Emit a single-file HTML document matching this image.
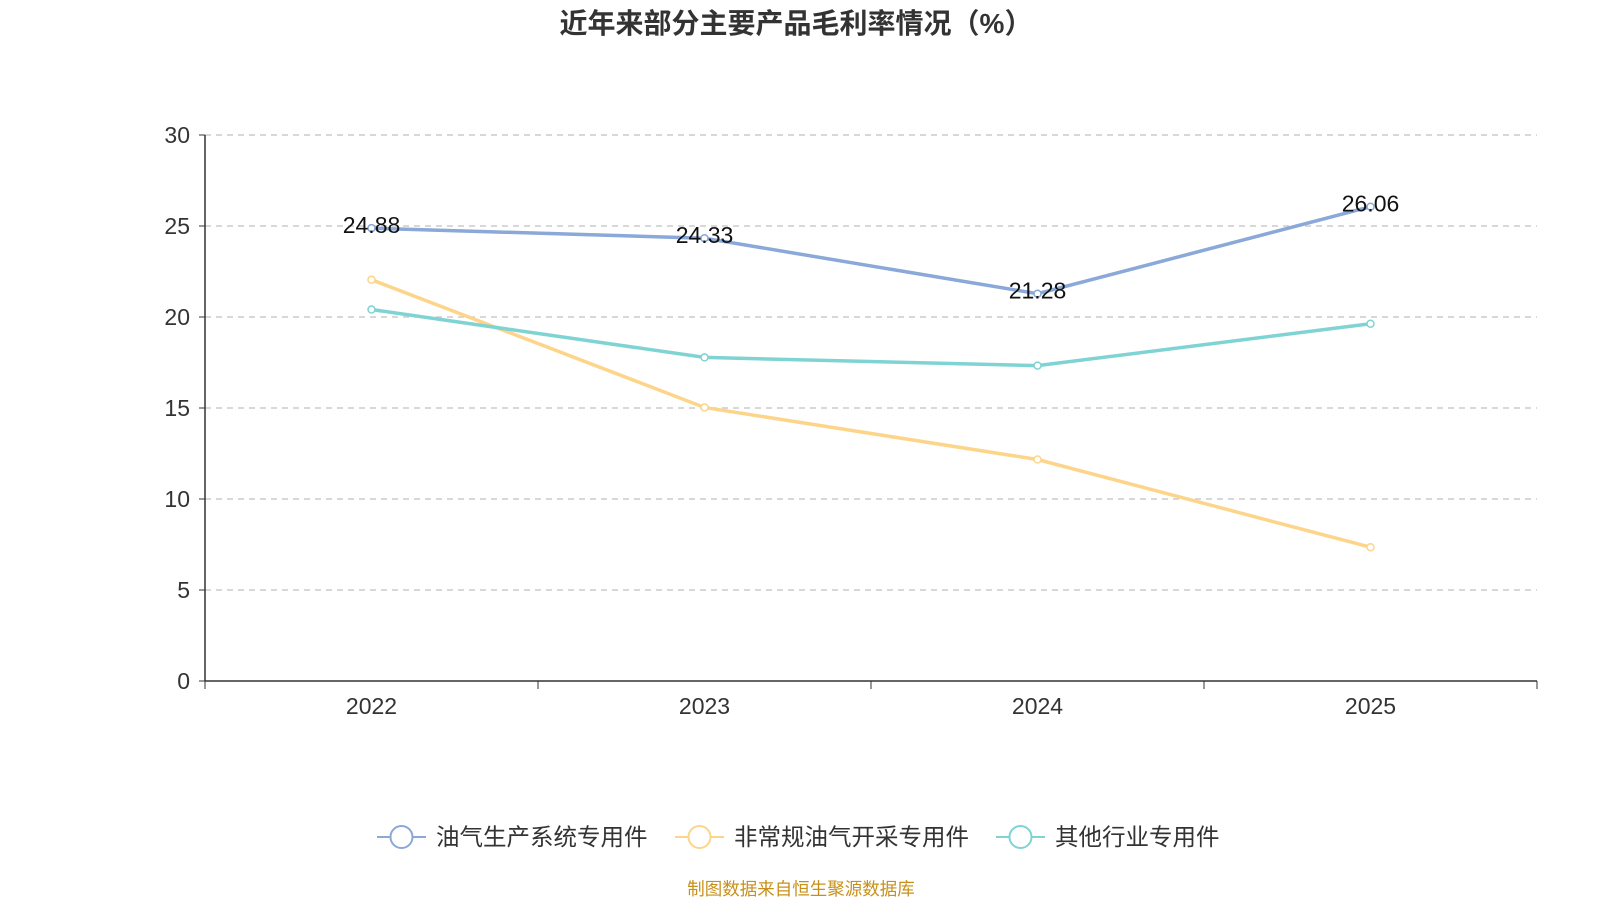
<!DOCTYPE html>
<html><head><meta charset="utf-8">
<style>
body{margin:0;background:#fff;width:1600px;height:900px;overflow:hidden;font-family:"Liberation Sans","Noto Sans CJK SC",sans-serif;}
</style></head>
<body>
<svg id="chart" width="1600" height="900" xmlns="http://www.w3.org/2000/svg">
<text x="796" y="33" text-anchor="middle" font-size="28" font-weight="bold" fill="#333" font-family="Liberation Sans,Noto Sans CJK SC,sans-serif">近年来部分主要产品毛利率情况（%）</text>
<g id="grid"></g><g id="axes"></g><g id="series"></g>
<g id="legend" fill="#333" font-family="Liberation Sans,Noto Sans CJK SC,sans-serif"></g>
<text x="801" y="895" text-anchor="middle" font-size="17.5" fill="#c8901a" font-family="Liberation Sans,Noto Sans CJK SC,sans-serif">制图数据来自恒生聚源数据库</text>
</svg>
<script>
const categories=["2022","2023","2024","2025"];
const seriesNames=["油气生产系统专用件","非常规油气开采专用件","其他行业专用件"];
const oilGas=[24.88,24.33,21.28,26.06];
const unconventional=[22.05,15.03,12.17,7.35];
const other=[20.41,17.78,17.33,19.63];
const yTicks=[0,5,10,15,20,25,30];
const colors=["#8aa8d8","#fdd58a","#7fd3d3"];
const NS="http://www.w3.org/2000/svg";
const x0=205,x1=1537,y0=681,y1=135;
const band=(x1-x0)/categories.length;
const X=i=>x0+band*(i+0.5);
const Y=v=>y0-(v/30)*(y0-y1);
function mk(tag,attrs,parent){const e=document.createElementNS(NS,tag);for(const k in attrs)e.setAttribute(k,attrs[k]);parent.appendChild(e);return e;}
const grid=document.getElementById('grid'),axes=document.getElementById('axes'),ser=document.getElementById('series'),leg=document.getElementById('legend');
yTicks.forEach(t=>{
 if(t>0){const g=mk('line',{x1:x0,x2:x1,y1:Y(t),y2:Y(t),stroke:'#ccc','stroke-dasharray':'6,5','stroke-width':1.5},grid);
 
 }
 const tk=mk('line',{x1:x0-6,x2:x0,y1:Y(t),y2:Y(t),stroke:'#333'},axes);
 
 
 const tx=mk('text',{x:x0-15,y:Y(t)+8,'text-anchor':'end','font-size':23,fill:'#333'},axes);tx.textContent=t;
 
 
});
const ya=mk('line',{x1:x0,x2:x0,y1:y1,y2:y0,stroke:'#333','stroke-width':1.5},axes);


const xa=mk('line',{x1:x0,x2:x1,y1:y0,y2:y0,stroke:'#333','stroke-width':1.5},axes);


for(let i=0;i<=categories.length;i++){const t=mk('line',{x1:x0+band*i,x2:x0+band*i,y1:y0,y2:y0+8,stroke:'#333'},axes);
 
 }
categories.forEach((c,i)=>{const t=mk('text',{x:X(i),y:y0+33,'text-anchor':'middle','font-size':23,fill:'#333'},axes);t.textContent=c;
 
 });
const data=[oilGas,unconventional,other];
[1,2,0].forEach(s=>{
 const d=data[s];
 const p=mk('polyline',{points:d.map((v,i)=>X(i)+','+Y(v)).join(' '),fill:'none',stroke:colors[s],'stroke-width':3.5},ser);
 
 
 d.forEach((v,i)=>{const c=mk('circle',{cx:X(i),cy:Y(v),r:3.5,fill:'#fff',stroke:colors[s],'stroke-width':1.5},ser);
  
  });
});
oilGas.forEach((v,i)=>{const t=mk('text',{x:X(i),y:Y(v)+5,'text-anchor':'middle','font-size':23,fill:'#111'},ser);t.textContent=v.toFixed(2);
 
 });
const lx=[377,675,996];
seriesNames.forEach((n,s)=>{
 const g=mk('g',{},leg);
 
 
 mk('line',{x1:lx[s],x2:lx[s]+49,y1:837,y2:837,stroke:colors[s],'stroke-width':2},g);
 mk('circle',{cx:lx[s]+24.5,cy:837,r:11,fill:'#fff',stroke:colors[s],'stroke-width':2},g);
 const t=mk('text',{x:lx[s]+59,y:845,'font-size':23.5,fill:'#333'},g);t.textContent=n;
});
</script>
</body></html>
